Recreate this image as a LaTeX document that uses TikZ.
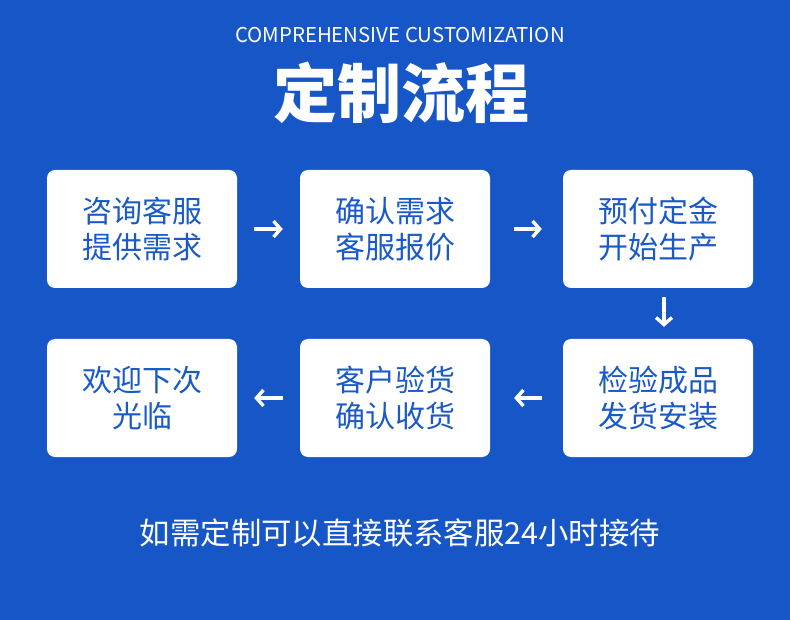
\documentclass[tikz,border=0pt]{standalone}
\usepackage{fontspec}
\setmainfont{Noto Sans CJK SC}
\usetikzlibrary{arrows.meta}
\definecolor{bgblue}{RGB}{22,86,199}
\definecolor{txtblue}{RGB}{26,90,200}
\tikzset{
  stepbox/.style={fill=white, rounded corners=8pt, minimum width=190pt, minimum height=118pt, inner sep=0pt,
    text=txtblue, font=\fontsize{30}{36}\selectfont, align=center},
  flowarrow/.style={draw=white, line width=3.4pt, -{Straight Barb[length=7pt,width=16pt,line width=3.4pt]}}
}
\begin{document}
\begin{tikzpicture}[x=1pt,y=-1pt]
\useasboundingbox (0,0) rectangle (790,620);
\fill[bgblue] (0,0) rectangle (790,620);
\node[text=white, font=\fontsize{20.4}{21}\selectfont] (sub) at (400,35) {COMPREHENSIVE CUSTOMIZATION};
\node[text=white, font=\fontsize{64}{64}\selectfont\bfseries] (title) at (401,93) {定制流程};
\node[stepbox] (b1) at (142,229) {咨询客服\\提供需求};
\node[stepbox] (b2) at (395,229) {确认需求\\客服报价};
\node[stepbox] (b3) at (658,229) {预付定金\\开始生产};
\node[stepbox] (b4) at (142,398) {欢迎下次\\光临};
\node[stepbox] (b5) at (395,398) {客户验货\\确认收货};
\node[stepbox] (b6) at (658,398) {检验成品\\发货安装};
\draw[flowarrow, shorten <=17pt, shorten >=17pt] (b1) -- (b2);
\draw[flowarrow, shorten <=24pt, shorten >=21pt] (b2) -- (b3);
\draw[flowarrow, shorten <=9pt, shorten >=12pt] (b3.south -| 664,0) -- (b6.north -| 664,0);
\draw[flowarrow, shorten <=21pt, shorten >=24pt] (b6) -- (b5);
\draw[flowarrow, shorten <=17pt, shorten >=17pt] (b5) -- (b4);
\node[text=white, font=\fontsize{30.4}{31}\selectfont] (foot) at (400,533) {如需定制可以直接联系客服24小时接待};
\end{tikzpicture}
\end{document}
